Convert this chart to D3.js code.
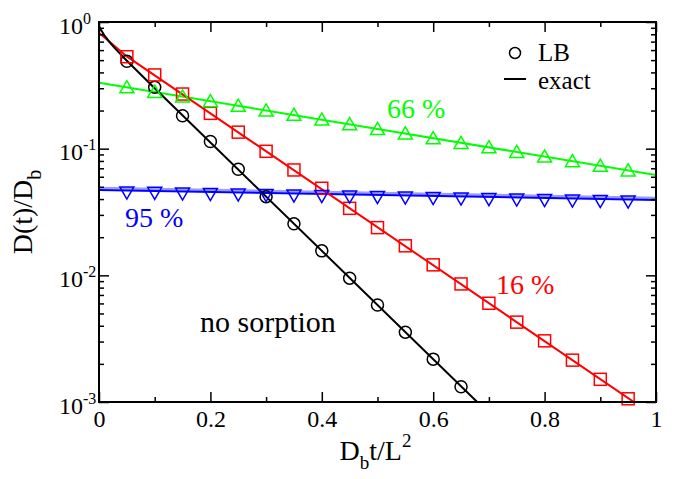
<!DOCTYPE html>
<html><head><meta charset="utf-8">
<script src="https://cdn.jsdelivr.net/npm/d3@7"></script>
<style>
body{margin:0;background:#fff}
svg{display:block}
</style>
</head><body>
<svg id="chart" width="676" height="479"></svg>
<script>
// ---- data ----
const tLB16 = [0.05,0.10,0.15,0.20,0.25,0.30,0.35,0.40,0.45,0.50,0.55,0.60,0.65,0.70,0.75,0.80,0.85,0.90,0.95];
const tLBno = [0.05,0.10,0.15,0.20,0.25,0.30,0.35,0.40,0.45,0.50,0.55,0.60,0.65];
const noSorptionLB = [0.49,0.305,0.182,0.114,0.0688,0.0418,0.0255,0.0156,0.0095,0.00584,0.00356,0.00218,0.00132];
const sorp16LB = [0.532,0.382,0.270,0.190,0.135,0.0953,0.0679,0.0487,0.0338,0.0238,0.0171,0.0121,0.00855,0.00602,0.00427,0.00304,0.00214,0.00151,0.00106];
const sorp66LB = [0.305,0.281,0.258,0.237,0.218,0.200,0.185,0.170,0.156,0.143,0.132,0.121,0.111,0.1025,0.0942,0.0867,0.0797,0.0733,0.0673];
const sorp95LB = [0.0468,0.0464,0.0459,0.0455,0.0451,0.0447,0.0443,0.0439,0.0435,0.0431,0.0427,0.0423,0.0419,0.0415,0.0412,0.0408,0.0404,0.0401,0.0397];

const tExactNo = [0,0.01,0.02,0.03,0.05,0.10,0.679];
const noSorptionExact = [0.92,0.78,0.685,0.61,0.495,0.30,0.001];
const tExact16 = [0,0.01,0.02,0.03,0.05,1.0];
const sorp16Exact = [0.82,0.755,0.693,0.635,0.535,0.00076];
const tExact66 = [0,0.5,1];
const sorp66Exact = [0.332,0.143,0.062];
const tExact95 = [0,1];
const sorp95Exact = [0.0472,0.0394];

const xMajorTicks = [0,0.2,0.4,0.6,0.8,1];
const xTickLabels = ["0","0.2","0.4","0.6","0.8","1"];
const xMinorTicks = [0.1,0.3,0.5,0.7,0.9];
const yMajorTicks = [1,0.1,0.01,0.001];
const yTickExponents = ["0","-1","-2","-3"];
const yMinorTicks = [0.002,0.003,0.004,0.005,0.006,0.007,0.008,0.009,
  0.02,0.03,0.04,0.05,0.06,0.07,0.08,0.09,
  0.2,0.3,0.4,0.5,0.6,0.7,0.8,0.9];

const legendLabels = ["LB","exact"];

// ---- layout ----
const FONT = '"Liberation Serif", "Times New Roman", serif';
const L = 99, T = 22, W = 557, H = 380;
const svg = d3.select("#chart");
const x = d3.scaleLinear().domain([0,1]).range([L, L+W]);
const y = d3.scaleLog().domain([0.001,1]).range([T+H, T]);

svg.append("defs").append("clipPath").attr("id","plotclip")
  .append("rect").attr("x",L).attr("y",T).attr("width",W).attr("height",H);

const plot = svg.append("g").attr("clip-path","url(#plotclip)");
const line = d3.line().x(d=>x(d[0])).y(d=>y(d[1]));
const zip = (a,b)=>a.map((v,i)=>[v,b[i]]);

// exact lines
plot.append("path").datum(zip(tExact95,sorp95Exact)).attr("d",line)
  .attr("fill","none").attr("stroke","#9a9aff").attr("stroke-width",2.5).attr("transform","translate(0,-2)");
plot.append("path").datum(zip(tExact95,sorp95Exact)).attr("d",line)
  .attr("fill","none").attr("stroke","#0000ff").attr("stroke-width",2);
plot.append("path").datum(zip(tExact66,sorp66Exact)).attr("d",line)
  .attr("fill","none").attr("stroke","#00ff00").attr("stroke-width",2);
plot.append("path").datum(zip(tExact16,sorp16Exact)).attr("d",line)
  .attr("fill","none").attr("stroke","#ff0000").attr("stroke-width",2);
plot.append("path").datum(zip(tExactNo,noSorptionExact)).attr("d",line)
  .attr("fill","none").attr("stroke","#000000").attr("stroke-width",2);

// markers
const sym = svg.append("g");
sym.selectAll(".c").data(zip(tLBno,noSorptionLB)).join("circle")
  .attr("cx",d=>x(d[0])).attr("cy",d=>y(d[1])).attr("r",6)
  .attr("fill","none").attr("stroke","#000").attr("stroke-width",1.5);
sym.selectAll(".s").data(zip(tLB16,sorp16LB)).join("rect")
  .attr("x",d=>x(d[0])-6).attr("y",d=>y(d[1])-6).attr("width",12).attr("height",12)
  .attr("fill","none").attr("stroke","#ff0000").attr("stroke-width",1.5);
const triUp = d3.symbol().type(d3.symbolTriangle).size(85);
sym.selectAll(".tu").data(zip(tLB16,sorp66LB)).join("path")
  .attr("d",triUp).attr("transform",d=>`translate(${x(d[0])},${y(d[1])+1.5})`)
  .attr("fill","none").attr("stroke","#00ff00").attr("stroke-width",1.5);
sym.selectAll(".td").data(zip(tLB16,sorp95LB)).join("path")
  .attr("d",triUp).attr("transform",d=>`translate(${x(d[0])},${y(d[1])+0.5}) rotate(180)`)
  .attr("fill","none").attr("stroke","#0000ff").attr("stroke-width",1.5);

// axes (ticks inward on all sides)
const axG = svg.append("g");
function styleAxis(g){ g.select(".domain").remove(); g.selectAll(".tick line").attr("stroke","#000").attr("stroke-width",1.5); }
const bx = axG.append("g").attr("transform",`translate(0,${T+H})`)
  .call(d3.axisBottom(x).tickValues(xMajorTicks).tickSize(-10).tickSizeOuter(0).tickFormat((d,i)=>xTickLabels[i]));
styleAxis(bx);
bx.selectAll(".tick text").attr("y",25).attr("dy",null).attr("fill","#000")
  .style("font-family",FONT).style("font-size","24px");
styleAxis(axG.append("g").attr("transform",`translate(0,${T+H})`)
  .call(d3.axisBottom(x).tickValues(xMinorTicks).tickSize(-5).tickFormat("")));
styleAxis(axG.append("g").attr("transform",`translate(0,${T})`)
  .call(d3.axisTop(x).tickValues(xMajorTicks).tickSize(-10).tickFormat("")));
styleAxis(axG.append("g").attr("transform",`translate(0,${T})`)
  .call(d3.axisTop(x).tickValues(xMinorTicks).tickSize(-5).tickFormat("")));

const ly = axG.append("g").attr("transform",`translate(${L},0)`)
  .call(d3.axisLeft(y).tickValues(yMajorTicks).tickSize(-10).tickSizeOuter(0).tickFormat(""));
styleAxis(ly);
ly.selectAll(".tick").each(function(d,i){
  const g = d3.select(this);
  g.select("text").remove();
  g.append("text").attr("x",-16).attr("y",11).attr("text-anchor","end").attr("fill","#000")
    .style("font-family",FONT).style("font-size","24px").text("10");
  g.append("text").attr("x",-16).attr("y",1).attr("text-anchor","start").attr("fill","#000")
    .style("font-family",FONT).style("font-size","16px").text(yTickExponents[i]);
});
styleAxis(axG.append("g").attr("transform",`translate(${L},0)`)
  .call(d3.axisLeft(y).tickValues(yMinorTicks).tickSize(-5).tickFormat("")));
styleAxis(axG.append("g").attr("transform",`translate(${L+W},0)`)
  .call(d3.axisRight(y).tickValues(yMajorTicks).tickSize(-10).tickFormat("")));
styleAxis(axG.append("g").attr("transform",`translate(${L+W},0)`)
  .call(d3.axisRight(y).tickValues(yMinorTicks).tickSize(-5).tickFormat("")));

svg.append("rect").attr("x",L).attr("y",T).attr("width",W).attr("height",H)
  .attr("fill","none").attr("stroke","#000").attr("stroke-width",2);

function txt(xp, yp, size, color, s){
  return svg.append("text").attr("x",xp).attr("y",yp).attr("fill",color)
    .style("font-family",FONT).style("font-size",size+"px").text(s);
}

// axis titles
const xt = svg.append("text").attr("x",L+W/2-2).attr("y",460).attr("text-anchor","middle")
  .style("font-family",FONT).style("font-size","28px");
xt.append("tspan").text("D");
xt.append("tspan").style("font-size","19px").attr("dy",9).text("b");
xt.append("tspan").attr("dy",-9).text("t/L");
xt.append("tspan").style("font-size","19px").attr("dy",-13).text("2");

const yt = svg.append("text").attr("transform",`translate(32,${T+H/2}) rotate(-90)`)
  .attr("text-anchor","middle").style("font-family",FONT).style("font-size","28px");
yt.append("tspan").text("D(t)/D");
yt.append("tspan").style("font-size","20px").attr("dy",9).text("b");

// annotations
txt(387,118,28,"#00ff00","66 %");
txt(125,226.5,28,"#0000ff","95 %");
txt(496,294,28,"#ff0000","16 %");
txt(200,332,30,"#000","no sorption");

// legend
svg.append("circle").attr("cx",515).attr("cy",53).attr("r",5.5).attr("fill","none").attr("stroke","#000").attr("stroke-width",1.5);
svg.append("line").attr("x1",504).attr("x2",526).attr("y1",79).attr("y2",79).attr("stroke","#000").attr("stroke-width",2);
txt(538,61,25,"#000",legendLabels[0]);
txt(538,89,25,"#000",legendLabels[1]);
</script>
</body></html>
